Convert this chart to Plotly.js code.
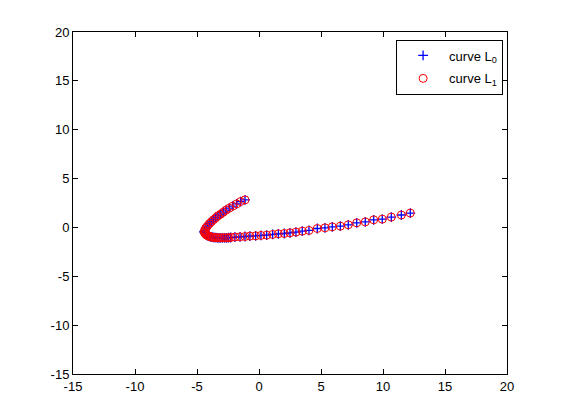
<!DOCTYPE html>
<html>
<head>
<meta charset="utf-8">
<script src="https://cdn.plot.ly/plotly-3.0.1.min.js"></script>
<style>html,body{margin:0;padding:0;background:#fff;}#chart{width:561px;height:420px;}</style>
</head>
<body>
<div id="chart"></div>
<script>
// curve L0 (blue +)
var x0 = [-1.13,-1.48,-1.80,-2.12,-2.40,-2.66,-2.88,-3.09,-3.31,-3.49,-3.68,-3.85,-4.01,-4.17,-4.30,-4.38,-4.42,-4.40,-4.35,-4.27,-4.20,-4.11,-4.00,-3.90,-3.77,-3.63,-3.47,-3.31,-3.14,-2.96,-2.78,-2.61,-2.45,-2.28,-1.94,-1.53,-1.13,-0.73,-0.27,0.16,0.62,1.10,1.56,2.04,2.50,2.98,3.49,4.03,4.70,5.32,5.91,6.56,7.20,7.88,8.57,9.25,9.94,10.67,11.48,12.20];
var y0 = [2.82,2.65,2.41,2.18,1.97,1.77,1.56,1.36,1.19,0.98,0.78,0.57,0.37,0.13,-0.07,-0.32,-0.42,-0.52,-0.62,-0.73,-0.80,-0.86,-0.92,-0.96,-1.00,-1.03,-1.05,-1.06,-1.06,-1.06,-1.06,-1.06,-1.05,-1.03,-0.99,-0.96,-0.93,-0.89,-0.86,-0.82,-0.79,-0.72,-0.65,-0.62,-0.55,-0.48,-0.38,-0.31,-0.11,-0.04,0.06,0.13,0.27,0.47,0.57,0.78,0.85,1.06,1.27,1.47];
// curve L1 (red o)
var x1 = x0.slice();
var y1 = y0.slice();
var xTicks = [-15,-10,-5,0,5,10,15,20];
var yTicks = [-15,-10,-5,0,5,10,15,20];

var font = {family: '"Liberation Sans", Arial, Helvetica, sans-serif', size: 13, color: '#000'};

var traces = [
  {x: x0, y: y0, type: 'scatter', mode: 'markers', name: 'curve L<sub>0</sub>', legendgroup: 'g0',
   marker: {symbol: 'cross-thin', size: 7, color: '#0000ff', line: {color: '#0000ff', width: 1.3}}},
  {x: x1, y: y1, type: 'scatter', mode: 'markers', name: 'curve L<sub>1</sub>', legendgroup: 'g1',
   marker: {symbol: 'circle-open', size: 8, color: '#ff0000', line: {color: '#ff0000', width: 1}}}
];

var axisCommon = {
  showgrid: false, zeroline: false, showline: true, linecolor: '#000', linewidth: 1,
  mirror: 'ticks', ticks: 'inside', ticklen: 5, tickcolor: '#000', tickwidth: 1,
  tickfont: font, tickmode: 'array'
};

var layout = {
  width: 561, height: 420,
  margin: {l: 73, r: 54, t: 32, b: 46, pad: 0},
  paper_bgcolor: '#fff', plot_bgcolor: '#fff',
  font: font,
  showlegend: true,
  xaxis: Object.assign({}, axisCommon, {range: [-15, 20], tickvals: xTicks, ticktext: xTicks.map(String)}),
  yaxis: Object.assign({}, axisCommon, {range: [-15, 20], tickvals: yTicks, ticktext: yTicks.map(String)}),
  legend: {x: 0.991, y: 0.978, xanchor: 'right', yanchor: 'top', bgcolor: '#fff',
           bordercolor: '#000', borderwidth: 1, font: font, itemwidth: 42,
           traceorder: 'grouped', tracegroupgap: 3}
};

Plotly.newPlot('chart', traces, layout, {displayModeBar: false, staticPlot: true});
</script>
</body>
</html>
